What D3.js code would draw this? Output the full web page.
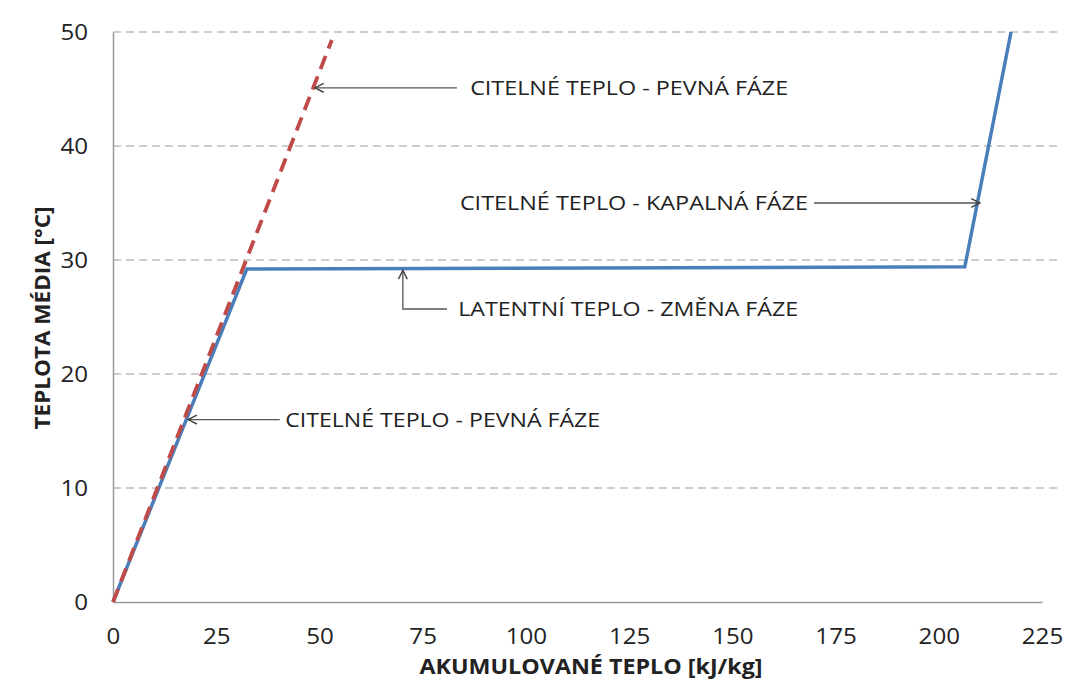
<!DOCTYPE html>
<html>
<head>
<meta charset="utf-8">
<script src="https://cdn.jsdelivr.net/npm/d3@7"></script>
<style>
  body { margin: 0; background: #fff; }
  text { font-family: "Open Sans", "Noto Sans", sans-serif; fill: #222; }
</style>
</head>
<body>
<div class="chart"></div>
<script>
// data
const solidLiquidX = [0, 32.4, 206.3, 217.5];
const solidLiquidY = [0, 29.2, 29.4, 50];
const solidOnlyX = [0, 53];
const solidOnlyY = [0, 49.3];

const xTicks = [0, 25, 50, 75, 100, 125, 150, 175, 200, 225];
const yTicks = [0, 10, 20, 30, 40, 50];

// annotations: label, arrow tip, where the leader starts, text start
const notes = [
  { text: "CITELNÉ TEPLO - PEVNÁ FÁZE", tip: [48.9, 45.1], from: [83.3, 45.1], label: [86.5, 45.1], anchor: "start", len: 318 },
  { text: "CITELNÉ TEPLO - KAPALNÁ FÁZE", tip: [210, 35.0], from: [169.8, 35.0], label: [168.3, 35.0], anchor: "end", len: 348 },
  { text: "LATENTNÍ TEPLO - ZMĚNA FÁZE", tip: [70.2, 29.1], elbow: [70.2, 25.7], from: [80.9, 25.7], label: [83.6, 25.7], anchor: "start", len: 340 },
  { text: "CITELNÉ TEPLO - PEVNÁ FÁZE", tip: [18.2, 16.0], from: [40.4, 16.0], label: [41.7, 16.0], anchor: "start", len: 315 }
];

const svgWidth = 1079;
const svgHeight = 686;
const margin = { top: 32, right: 37, bottom: 84, left: 113 };
const width = svgWidth - margin.left - margin.right;
const height = svgHeight - margin.top - margin.bottom;

const svg = d3.select(".chart")
  .append("svg")
  .attr("width", svgWidth)
  .attr("height", svgHeight);

const defs = svg.append("defs");
defs.append("marker")
  .attr("id", "arrow")
  .attr("viewBox", "0 0 10 10")
  .attr("refX", 9).attr("refY", 5)
  .attr("markerWidth", 11).attr("markerHeight", 11)
  .attr("markerUnits", "userSpaceOnUse")
  .attr("orient", "auto")
  .append("path")
  .attr("d", "M1,1 L9,5 L1,9")
  .attr("fill", "none")
  .attr("stroke", "#444")
  .attr("stroke-width", 1.3);

const chartGroup = svg.append("g")
  .attr("transform", `translate(${margin.left}, ${margin.top})`);

const x = d3.scaleLinear().domain([0, 225]).range([0, width]);
const y = d3.scaleLinear().domain([0, 50]).range([height, 0]);

// grid (extends a bit past the last x label, like the original)
chartGroup.append("g")
  .selectAll("line")
  .data(yTicks.filter(d => d > 0))
  .enter()
  .append("line")
  .attr("x1", 0)
  .attr("x2", width + 15)
  .attr("y1", d => y(d))
  .attr("y2", d => y(d))
  .attr("stroke", "#bdbdbd")
  .attr("stroke-width", 1.3)
  .attr("stroke-dasharray", "8,5");

// axes
const bottomAxis = d3.axisBottom(x).tickValues(xTicks).tickSize(0).tickPadding(35);
const leftAxis = d3.axisLeft(y).tickValues(yTicks).tickSize(0).tickPadding(25);

const xAxis = chartGroup.append("g")
  .attr("transform", `translate(0, ${height})`)
  .call(bottomAxis);
const yAxis = chartGroup.append("g").call(leftAxis);

[xAxis, yAxis].forEach(a => {
  a.select(".domain").attr("stroke", "#999").attr("stroke-width", 1.5);
  a.selectAll("text")
    .style("font-size", "21px")
    .attr("fill", "#222")
    .attr("textLength", d => String(d).length * 13.8)
    .attr("lengthAdjust", "spacingAndGlyphs");
});
xAxis.selectAll("text").attr("dy", "0.35em");
yAxis.selectAll("text").attr("dy", "0.35em");

// lines
const line = d3.line().x(d => x(d[0])).y(d => y(d[1]));

chartGroup.append("path")
  .datum(solidLiquidX.map((v, i) => [v, solidLiquidY[i]]))
  .attr("d", line)
  .attr("fill", "none")
  .attr("stroke", "#4a7ebb")
  .attr("stroke-width", 3.5)
  .attr("stroke-linejoin", "miter");

chartGroup.append("path")
  .datum(solidOnlyX.map((v, i) => [v, solidOnlyY[i]]))
  .attr("d", line)
  .attr("fill", "none")
  .attr("stroke", "#be4b48")
  .attr("stroke-width", 3.8)
  .attr("stroke-dasharray", "14,8");

// annotations
notes.forEach(n => {
  const pts = [n.from];
  if (n.elbow) pts.push(n.elbow);
  pts.push(n.tip);
  chartGroup.append("path")
    .attr("d", d3.line().x(d => x(d[0])).y(d => y(d[1]))(pts))
    .attr("fill", "none")
    .attr("stroke", "#555")
    .attr("stroke-width", 1.3)
    .attr("marker-end", "url(#arrow)");
  chartGroup.append("text")
    .attr("x", x(n.label[0]))
    .attr("y", y(n.label[1]))
    .attr("dy", "0.35em")
    .attr("text-anchor", n.anchor)
    .attr("textLength", n.len)
    .attr("lengthAdjust", "spacingAndGlyphs")
    .style("font-size", "20px")
    .text(n.text);
});

// axis titles
svg.append("text")
  .attr("x", 591)
  .attr("y", 666)
  .attr("dy", "0.35em")
  .attr("text-anchor", "middle")
  .attr("textLength", 343)
  .attr("lengthAdjust", "spacingAndGlyphs")
  .style("font-size", "22px")
  .style("font-weight", "bold")
  .text("AKUMULOVANÉ TEPLO [kJ/kg]");

svg.append("text")
  .attr("transform", "rotate(-90)")
  .attr("x", -318)
  .attr("y", 43)
  .attr("dy", "0.35em")
  .attr("text-anchor", "middle")
  .attr("textLength", 223)
  .attr("lengthAdjust", "spacingAndGlyphs")
  .style("font-size", "21px")
  .style("font-weight", "bold")
  .text("TEPLOTA MÉDIA [°C]");
</script>
</body>
</html>
